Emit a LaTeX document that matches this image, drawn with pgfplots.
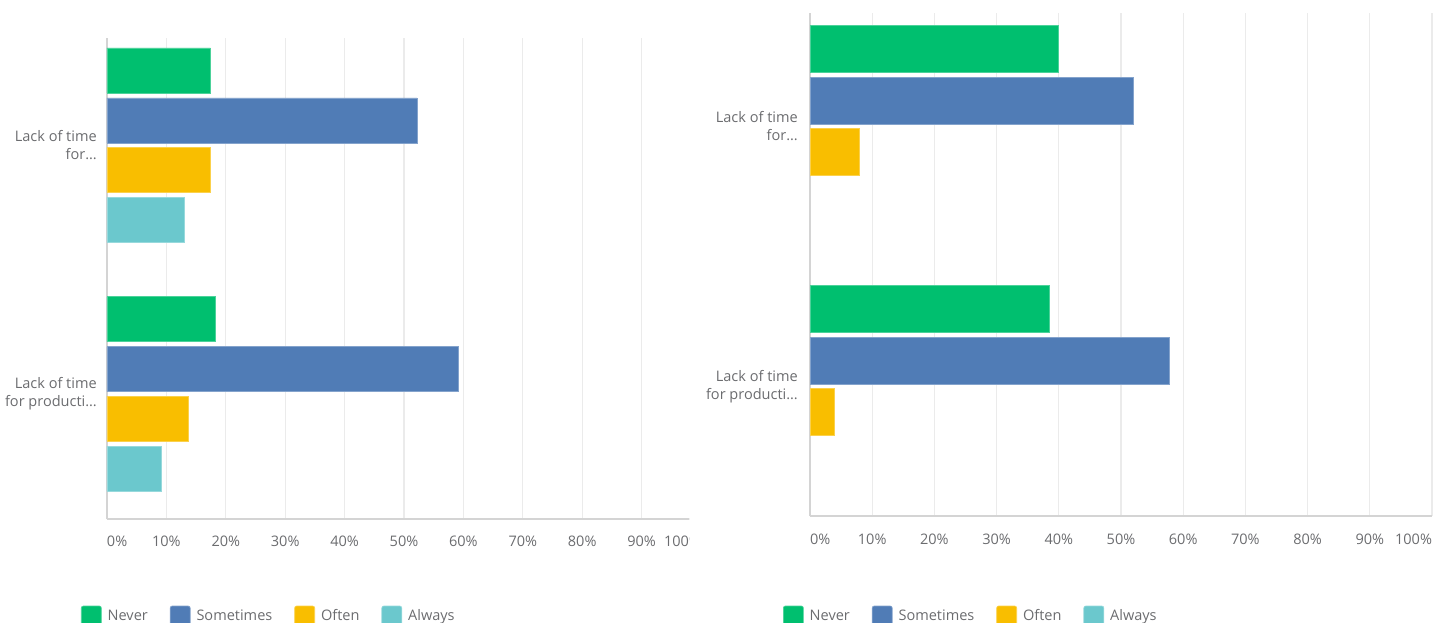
\documentclass[border=0pt]{standalone}
\usepackage{fontspec}
\setmainfont{Open Sans}
\usepackage{pgfplots}
\pgfplotsset{compat=1.18}
\definecolor{nevc}{HTML}{00BF6F}
\definecolor{somc}{HTML}{507CB6}
\definecolor{ofc}{HTML}{F9BE00}
\definecolor{alc}{HTML}{6BC8CD}
\definecolor{txt}{HTML}{6B6C6F}
\definecolor{gridc}{HTML}{EBEBEB}
\definecolor{axc}{HTML}{D4D4D4}
\newcommand{\lblfont}{\fontsize{10.9pt}{13.5pt}\selectfont}
\pgfplotsset{
  sqleg/.style={legend image code/.code={\fill[##1, rounded corners=1.5pt] (0pt,-7.5pt) rectangle (15pt,7.5pt);}},
  common/.style={
    scale only axis, xbar, xmin=0, xmax=100,
    axis lines*=left,
    axis line style={axc, line width=1.1pt},
    xmajorgrids, grid style={gridc, line width=1pt},
    major tick length=0pt,
    xtick={0,10,20,30,40,50,60,70,80,90,100},
    xticklabels={\makebox[0pt][l]{0\%},10\%,20\%,30\%,40\%,50\%,60\%,70\%,80\%,90\%,\makebox[0pt][r]{100\%}},
    ytick={0,1},
    yticklabels={{Lack of time\\for producti\ldots},{Lack of time\\for\ldots}},
    yticklabel style={align=right, inner sep=0pt, font=\lblfont, text=txt},
    xticklabel style={anchor=center, inner sep=0pt, font=\lblfont, text=txt},
    legend columns=4,
    legend style={draw=none, fill=none, inner sep=0pt, outer sep=0pt, anchor=west,
      font=\lblfont, text=txt, cells={anchor=west},
      nodes={inner xsep=2.25pt, inner ysep=0pt},
      /tikz/every odd column/.append style={column sep=2.25pt},
      /tikz/every even column/.append style={column sep=14.25pt}},
  }
}
\begin{document}
\begin{tikzpicture}
\begin{scope}
\clip (0pt,10pt) rectangle (517pt,-480pt);
\begin{axis}[common,
  at={(80.25pt,-389.25pt)}, anchor=south west,
  width=445.5pt, height=360.75pt,
  ymin=-0.5025, ymax=1.431,
  bar width=33.75pt,
  yticklabel style={xshift=-7.5pt},
  xticklabel style={yshift=-16.5pt},
  legend style={at={(axis description cs:-0.0438,-0.2017)}},
]
\addplot[sqleg, fill=nevc, draw=nevc!70!white, line width=0.5pt, bar shift=56.06pt] coordinates {(17.39,1) (18.18,0)};
\addplot[sqleg, fill=somc, draw=somc!70!white, line width=0.5pt, bar shift=18.56pt] coordinates {(52.17,1) (59.09,0)};
\addplot[sqleg, fill=ofc, draw=ofc!70!white, line width=0.5pt, bar shift=-18.56pt] coordinates {(17.39,1) (13.64,0)};
\addplot[sqleg, fill=alc, draw=alc!70!white, line width=0.5pt, bar shift=-56.06pt] coordinates {(13.04,1) (9.09,0)};
\legend{Never,Sometimes,Often,Always}
\end{axis}
\end{scope}
\begin{axis}[common,
  at={(607.5pt,-387pt)}, anchor=south west,
  width=466.5pt, height=377.25pt,
  ymin=-0.498, ymax=1.4365,
  bar width=35.25pt,
  yticklabel style={xshift=-9pt},
  xticklabel style={yshift=-17.25pt},
  legend style={at={(axis description cs:-0.0434,-0.1988)}},
]
\addplot[sqleg, fill=nevc, draw=nevc!70!white, line width=0.5pt, bar shift=58.1pt] coordinates {(40,1) (38.46,0)};
\addplot[sqleg, fill=somc, draw=somc!70!white, line width=0.5pt, bar shift=19.3pt] coordinates {(52,1) (57.69,0)};
\addplot[sqleg, fill=ofc, draw=ofc!70!white, line width=0.5pt, bar shift=-19.3pt] coordinates {(8,1) (3.85,0)};
\addlegendimage{sqleg, fill=alc, draw=alc!70!white, line width=0.5pt}
\legend{Never,Sometimes,Often,Always}
\end{axis}
\pgfresetboundingbox
\useasboundingbox (0pt,0pt) rectangle (1081.5pt,-467.25pt);
\end{tikzpicture}
\end{document}
